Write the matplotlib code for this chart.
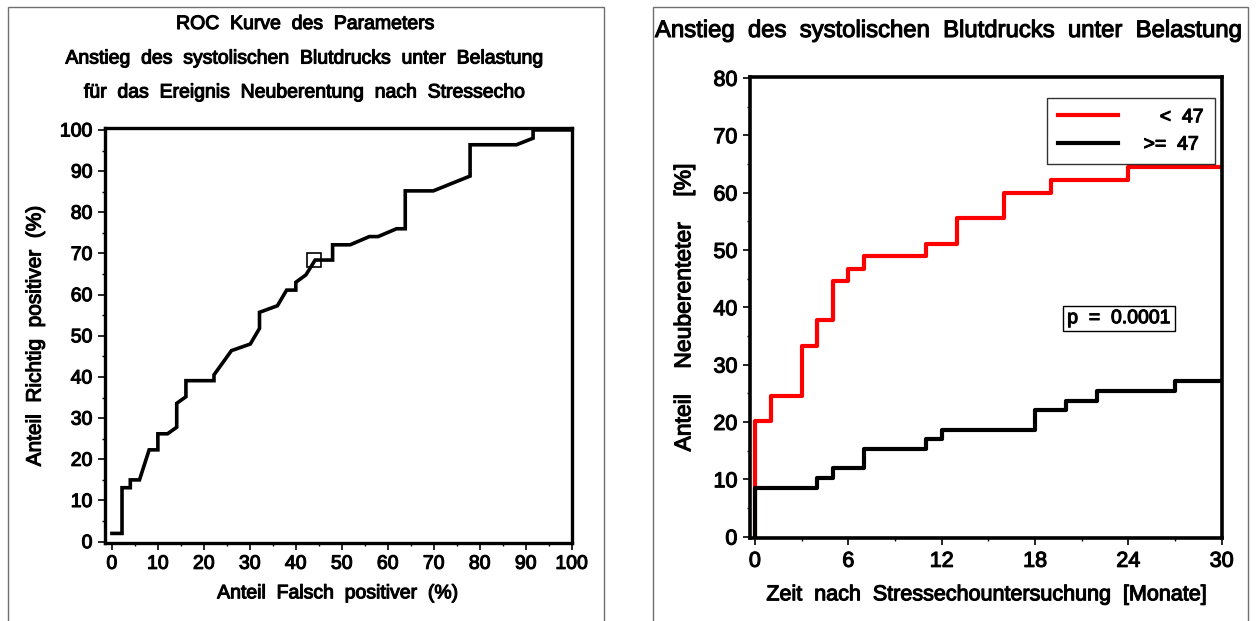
import matplotlib
matplotlib.use("Agg")
import matplotlib.pyplot as plt
import matplotlib.patheffects as pe
from matplotlib.patches import Rectangle
from matplotlib.ticker import MultipleLocator

plt.rcParams['font.family'] = ['Liberation Sans', 'DejaVu Sans']

# ---- ROC data (left panel) ----
roc_fpr = [0, 2.2, 2.2, 4, 4, 6, 8.1, 10, 10, 12.1, 14.1, 14.1, 16.1, 16.1, 22.2, 22.2,
           26, 30.1, 32.1, 32.1, 36, 38, 40, 40, 42.2, 44.2, 48, 48, 51.8, 56, 57.9,
           61.9, 63.8, 63.8, 69.9, 77.9, 77.9, 88, 91.6, 91.6, 100]
roc_tpr = [2, 2, 13.1, 13.1, 15, 15, 22.3, 22.3, 26.2, 26.2, 27.8, 33.6, 35.2, 39.1, 39.1,
           40.5, 46.4, 48, 51.8, 55.7, 57.3, 61.1, 61.1, 63, 64.8, 68.4, 68.4, 72.1, 72.1,
           74.1, 74.1, 76, 76, 85.2, 85.2, 88.8, 96.4, 96.4, 98, 100, 100]
cut_fpr = [43.9]
cut_tpr = [68.3]

left_title_lines = ["ROC  Kurve  des  Parameters",
                    "Anstieg  des  systolischen  Blutdrucks  unter  Belastung",
                    "für  das  Ereignis  Neuberentung  nach  Stressecho"]
left_xlabel = "Anteil  Falsch  positiver  (%)"
left_ylabel = "Anteil  Richtig  positiver  (%)"
left_ticks = list(range(0, 101, 10))

# ---- Kaplan-Meier style data (right panel) ----
red_t = [0, 0, 1, 3, 4, 5, 6, 7, 11, 13, 16, 19, 24, 30]
red_y = [0, 20.1, 24.6, 33.3, 37.8, 44.5, 46.7, 48.9, 51.1, 55.6, 60.0, 62.2, 64.4, 64.4]
blk_t = [0, 0, 4, 5, 7, 11, 12, 18, 20, 22, 27, 30]
blk_y = [0, 8.5, 10.2, 11.9, 15.25, 17.0, 18.6, 22.1, 23.7, 25.4, 27.05, 27.05]
legend_labels = ["   <  47", ">=  47"]
right_title = "Anstieg  des  systolischen  Blutdrucks  unter  Belastung"
right_xlabel = "Zeit  nach  Stressechountersuchung  [Monate]"
right_ylabel = "Anteil    Neuberenteter    [%]"
right_xticks = [0, 6, 12, 18, 24, 30]
right_yticks = list(range(0, 81, 10))
p_text = "p  =  0.0001"

W, H = 1256, 621
fig = plt.figure(figsize=(W / 100, H / 100), dpi=100)
heavy = [pe.withStroke(linewidth=0.8, foreground='black')]

def box(l, t, r, b):
    return [l / W, 1 - b / H, (r - l) / W, (b - t) / H]

# panel borders
for (l, r) in [(8, 604), (653, 1248)]:
    fig.patches.append(Rectangle((l / W, -0.01), (r - l) / W, 1 - 7 / H + 0.01,
                                 transform=fig.transFigure, fill=False,
                                 edgecolor='#707070', lw=1.0))

# ---------------- left panel ----------------
ax1 = fig.add_axes(box(105, 128.3, 571.7, 543.3))
ax1.plot(roc_fpr, roc_tpr, color='black', lw=2.6, solid_joinstyle='miter')
ax1.plot(cut_fpr, cut_tpr, marker='s', ms=10.5, mfc='none', mec='black', mew=1.2, ls='none')
ax1.set_xlim(-1.5, 100)
ax1.set_ylim(-0.4, 100.4)
ax1.set_xticks(left_ticks)
ax1.set_yticks(left_ticks)
ax1.xaxis.set_minor_locator(MultipleLocator(5))
ax1.yaxis.set_minor_locator(MultipleLocator(5))
for sp in ax1.spines.values():
    sp.set_linewidth(2.4)
ax1.tick_params(which='major', direction='out', length=5, width=1.2, labelsize=14, pad=4)
ax1.tick_params(which='minor', direction='out', length=2.5, width=1.0)
ax1.set_xlabel(left_xlabel, fontsize=14, labelpad=9)
ax1.set_ylabel(left_ylabel, fontsize=15, labelpad=11)
for lab in ax1.get_xticklabels() + ax1.get_yticklabels():
    lab.set_path_effects(heavy)
ax1.xaxis.label.set_path_effects(heavy)
ax1.yaxis.label.set_path_effects(heavy)
for line, yc in zip(left_title_lines, [24.5, 59, 93]):
    fig.text(306 / W, 1 - yc / H, line, ha='center', va='center', fontsize=14,
             path_effects=heavy)

# ---------------- right panel ----------------
ax2 = fig.add_axes(box(750, 76.7, 1221.7, 538.3))
ax2.plot(red_t, red_y, drawstyle='steps-post', color='#ff0000', lw=3.0, label=legend_labels[0])
ax2.plot(blk_t, blk_y, drawstyle='steps-post', color='black', lw=3.0, label=legend_labels[1])
ax2.set_xlim(-0.32, 30)
ax2.set_ylim(-0.3, 80.2)
ax2.set_xticks(right_xticks)
ax2.set_yticks(right_yticks)
ax2.xaxis.set_minor_locator(MultipleLocator(3))
ax2.yaxis.set_minor_locator(MultipleLocator(5))
for sp in ax2.spines.values():
    sp.set_linewidth(2.6)
ax2.tick_params(which='major', direction='out', length=5, width=1.2, labelsize=15.5, pad=4)
ax2.tick_params(which='minor', direction='out', length=2.5, width=1.0)
ax2.set_xlabel(right_xlabel, fontsize=15.5, labelpad=9)
ax2.set_ylabel(right_ylabel, fontsize=16.5, labelpad=13)
for lab in ax2.get_xticklabels() + ax2.get_yticklabels():
    lab.set_path_effects(heavy)
ax2.xaxis.label.set_path_effects(heavy)
ax2.yaxis.label.set_path_effects(heavy)
fig.text(948 / W, 1 - 31 / H, right_title, ha='center', va='center', fontsize=17.2,
         path_effects=heavy)

leg = ax2.legend(loc='upper right', bbox_to_anchor=((1214.5 - 750) / 471.7, 1 - (98 - 76.7) / 461.6),
                 frameon=True, fancybox=False, edgecolor='black', fontsize=14,
                 handlelength=3.1, handletextpad=1.3, borderpad=0.55, borderaxespad=0,
                 labelspacing=0.5)
leg.get_frame().set_linewidth(1.0)
for t in leg.get_texts():
    t.set_path_effects(heavy)

ax2.text(23.4, 38.0, p_text, ha='center', va='center', fontsize=14, path_effects=heavy,
         bbox=dict(boxstyle='square,pad=0.2', facecolor='white', edgecolor='black', lw=1.0))

fig.savefig("out.png", dpi=100)
